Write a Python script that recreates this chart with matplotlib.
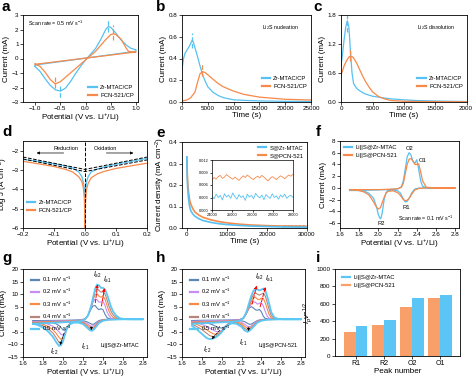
import numpy as np
import matplotlib
matplotlib.use("Agg")
import matplotlib.pyplot as plt
from matplotlib.lines import Line2D
from matplotlib.patches import Rectangle

plt.rcParams['font.family'] = ['Liberation Sans', 'DejaVu Sans']
plt.rcParams['mathtext.fontset'] = 'custom'
plt.rcParams['mathtext.rm'] = 'Liberation Sans'
plt.rcParams['mathtext.it'] = 'Liberation Sans:italic'
plt.rcParams['font.size'] = 4.5
plt.rcParams['axes.linewidth'] = 0.6
for k in ['xtick', 'ytick']:
    plt.rcParams[k + '.major.size'] = 2
    plt.rcParams[k + '.major.width'] = 0.5
    plt.rcParams[k + '.major.pad'] = 1.2
    plt.rcParams[k + '.labelsize'] = 4.5

BLUE = '#56C1F2'
ORANGE = '#F7894A'
RATE_COLORS = ['#5A86B8', '#C88CF5', '#F98A45', '#B8857A', '#5BC8F5']

# ---- a: symmetric cell CV ----
a_blue_x = [-1.0, -0.9, -0.8, -0.7, -0.6, -0.5, -0.4, -0.3, -0.2, -0.1, 0.0, 0.1, 0.2, 0.3, 0.4, 0.45, 0.5, 0.6, 0.7, 0.8, 0.9, 1.0, 1.0, -1.0, -1.0]
a_blue_y = [-0.55, -0.9, -1.4, -1.85, -2.15, -2.25, -2.05, -1.6, -1.05, -0.55, -0.1, 0.3, 0.7, 1.3, 2.0, 2.2, 2.15, 1.75, 1.3, 0.95, 0.7, 0.6, 0.5, -0.45, -0.55]
a_orange_x = [-1.0, -0.9, -0.8, -0.7, -0.6, -0.5, -0.4, -0.3, -0.2, -0.1, 0.0, 0.1, 0.2, 0.3, 0.4, 0.5, 0.55, 0.6, 0.7, 0.8, 0.85, 0.9, 1.0, -1.0, -1.0]
a_orange_y = [-0.38, -0.55, -0.95, -1.45, -1.75, -1.6, -1.3, -1.0, -0.7, -0.4, -0.1, 0.2, 0.5, 0.9, 1.3, 1.65, 1.7, 1.65, 1.35, 0.75, 0.5, 0.45, 0.45, -0.4, -0.38]
a_err_blue = [(0.45, 1.85, 2.7), (-0.5, -1.9, -2.8)]
a_err_orange = [(0.55, 1.3, 2.3), (-0.6, -1.25, -2.05)]

# ---- b: Li2S nucleation ----
nuc_t = [0, 300, 600, 1000, 1400, 1800, 2000, 2200, 2500, 3000, 3500, 4000, 4500, 5000, 6000, 7000, 8000, 10000, 12000, 15000, 20000, 25000]
nuc_blue = [0.30, 0.40, 0.45, 0.48, 0.51, 0.55, 0.57, 0.55, 0.50, 0.42, 0.33, 0.25, 0.19, 0.14, 0.09, 0.06, 0.04, 0.02, 0.015, 0.01, 0.006, 0.005]
nuc_orange = [0.01, 0.012, 0.015, 0.02, 0.03, 0.045, 0.06, 0.07, 0.09, 0.18, 0.26, 0.28, 0.27, 0.25, 0.21, 0.17, 0.14, 0.10, 0.07, 0.045, 0.025, 0.018]
nuc_err = [(2000, 0.50, 0.63, BLUE), (3800, 0.24, 0.36, ORANGE)]

# ---- c: Li2S dissolution ----
dis_t = [0, 250, 500, 750, 1000, 1250, 1500, 1750, 2000, 2500, 3000, 3500, 4000, 4500, 5000, 6000, 7000, 8000, 10000, 12000, 15000, 20000]
dis_blue = [0.75, 1.0, 1.3, 1.55, 1.68, 1.55, 1.05, 0.6, 0.38, 0.28, 0.23, 0.19, 0.16, 0.14, 0.12, 0.10, 0.08, 0.065, 0.045, 0.03, 0.02, 0.01]
dis_orange = [0.55, 0.65, 0.75, 0.82, 0.88, 0.93, 0.95, 0.94, 0.91, 0.80, 0.66, 0.52, 0.40, 0.30, 0.21, 0.11, 0.06, 0.03, 0.015, 0.01, 0.008, 0.005]
dis_err = [(1000, 1.45, 1.8, BLUE), (1500, 0.85, 1.1, ORANGE)]

# ---- d: Tafel ----
d_x = [-0.2, -0.15, -0.1, -0.06, -0.04, -0.02, -0.01, -0.005, -0.002, 0.0, 0.002, 0.005, 0.01, 0.02, 0.04, 0.06, 0.1, 0.15, 0.2]
d_blue = [-2.45, -2.55, -2.68, -2.8, -2.9, -3.1, -3.35, -3.65, -4.0, -4.4, -4.0, -3.6, -3.35, -3.1, -2.95, -2.85, -2.7, -2.55, -2.4]
d_orange = [-2.55, -2.68, -2.82, -2.98, -3.1, -3.35, -3.6, -3.95, -4.5, -6.0, -4.6, -4.0, -3.7, -3.4, -3.2, -3.08, -2.92, -2.78, -2.65]
d_fit_x = [-0.2, 0.0, 0.2]
d_fit1 = [-2.33, -2.97, -2.33]
d_fit2 = [-2.43, -3.08, -2.48]

# ---- e: potentiostatic ----
e_t = [0, 100, 200, 400, 700, 1000, 1500, 2000, 3000, 4000, 6000, 8000, 10000, 13000, 16000, 20000, 24000, 28000, 30000]
e_blue = [0.33, 0.24, 0.19, 0.14, 0.10, 0.08, 0.065, 0.055, 0.043, 0.035, 0.026, 0.02, 0.016, 0.012, 0.009, 0.007, 0.005, 0.004, 0.004]
e_orange = [0.33, 0.26, 0.22, 0.17, 0.13, 0.11, 0.09, 0.075, 0.06, 0.05, 0.038, 0.03, 0.024, 0.018, 0.014, 0.011, 0.009, 0.008, 0.008]
inset_orange = [0.0072, 0.0078, 0.0074, 0.0080, 0.0083, 0.0076, 0.0079, 0.0085, 0.0081, 0.0077, 0.0074, 0.0079, 0.0075, 0.0071, 0.0077,
                0.0082, 0.0078, 0.0084, 0.0080, 0.0076, 0.0073, 0.0078, 0.0081, 0.0077, 0.0083, 0.0079, 0.0074, 0.0070, 0.0076, 0.0080,
                0.0077, 0.0073, 0.0078, 0.0082, 0.0079, 0.0075, 0.0080, 0.0084, 0.0081, 0.0086]
inset_blue = [0.0033, 0.0027, 0.0038, 0.0030, 0.0035, 0.0024, 0.0039, 0.0031, 0.0036, 0.0028, 0.0041, 0.0032, 0.0026, 0.0037, 0.0030,
              0.0034, 0.0023, 0.0038, 0.0031, 0.0035, 0.0027, 0.0040, 0.0033, 0.0029, 0.0036, 0.0025, 0.0037, 0.0032, 0.0028, 0.0039,
              0.0030, 0.0034, 0.0026, 0.0036, 0.0031, 0.0038, 0.0028, 0.0033, 0.0035, 0.0030]

# ---- f: CV of Li-S cells ----
f_an_x = [1.70, 1.80, 1.90, 2.00, 2.10, 2.20, 2.24, 2.26, 2.28, 2.30, 2.32, 2.34, 2.36, 2.38, 2.40, 2.42, 2.44, 2.46, 2.50, 2.60, 2.80]
f_an_blue = [-0.45, -0.45, -0.4, -0.35, -0.3, -0.2, 0.2, 1.2, 3.2, 5.3, 6.0, 5.6, 4.5, 4.2, 4.8, 3.2, 1.2, 0.3, 0.0, 0.0, 0.0]
f_an_orange = [-0.3, -0.3, -0.3, -0.3, -0.25, -0.15, 0.1, 0.8, 2.4, 4.0, 4.9, 5.0, 4.6, 4.0, 4.0, 4.1, 2.8, 1.2, 0.1, 0.0, 0.0]
f_ca_x = [2.80, 2.50, 2.42, 2.38, 2.35, 2.32, 2.30, 2.28, 2.26, 2.23, 2.20, 2.15, 2.10, 2.08, 2.06, 2.04, 2.03, 2.02, 2.00, 1.98, 1.95, 1.90, 1.85, 1.80, 1.75, 1.70]
f_ca_blue = [0, 0, -0.05, -0.2, -0.8, -1.8, -2.3, -2.4, -1.9, -0.9, -0.5, -0.4, -0.45, -0.8, -2.0, -4.2, -5.0, -5.3, -4.6, -3.2, -1.8, -0.9, -0.55, -0.45, -0.4, -0.4]
f_ca_orange = [0, 0, -0.1, -0.35, -1.0, -1.8, -2.1, -2.2, -2.0, -1.3, -0.8, -0.5, -0.6, -0.9, -1.6, -2.5, -3.0, -3.4, -3.6, -3.3, -2.4, -1.2, -0.7, -0.45, -0.35, -0.3]

# ---- g / h: CV at various scan rates ----
rate_labels = ['0.1 mV s$^{-1}$', '0.2 mV s$^{-1}$', '0.3 mV s$^{-1}$', '0.4 mV s$^{-1}$', '0.5 mV s$^{-1}$']
an_x = [1.70, 1.80, 1.90, 2.00, 2.10, 2.18, 2.22, 2.25, 2.28, 2.30, 2.32, 2.34, 2.36, 2.38, 2.40, 2.42, 2.44, 2.46, 2.48, 2.50, 2.53, 2.57, 2.62, 2.70, 2.80]
g_an = [
    [-0.6, -0.5, -0.45, -0.4, -0.3, -0.2, 0.2, 1.5, 4.0, 5.3, 5.5, 4.5, 3.8, 4.2, 3.8, 2.0, 0.7, 0.2, 0.05, 0, 0, 0, 0, 0, 0],
    [-0.9, -0.8, -0.7, -0.6, -0.5, -0.3, 0.1, 1.5, 4.5, 6.8, 8.0, 7.8, 6.8, 6.9, 7.2, 5.5, 3.0, 1.4, 0.5, 0.15, 0, 0, 0, 0, 0],
    [-1.2, -1.0, -0.9, -0.8, -0.65, -0.45, 0.0, 1.5, 4.8, 7.6, 9.8, 10.2, 9.2, 8.8, 9.3, 8.0, 5.5, 3.2, 1.7, 0.8, 0.2, 0, 0, 0, 0],
    [-1.5, -1.3, -1.1, -1.0, -0.8, -0.6, 0.0, 1.5, 5.0, 8.2, 11.0, 12.3, 11.5, 10.8, 11.0, 10.0, 7.8, 5.2, 3.2, 1.8, 0.7, 0.1, 0, 0, 0],
    [-1.8, -1.6, -1.4, -1.2, -1.0, -0.7, 0.0, 1.5, 5.0, 8.5, 12.0, 13.8, 13.5, 12.5, 12.5, 11.8, 10.0, 7.5, 5.0, 3.2, 1.5, 0.4, 0.05, 0, 0],
]
g_ca_x = [2.80, 2.60, 2.45, 2.40, 2.36, 2.33, 2.31, 2.29, 2.27, 2.24, 2.20, 2.15, 2.10, 2.07, 2.04, 2.02, 2.00, 1.98, 1.96, 1.93, 1.90, 1.85, 1.80, 1.75, 1.70]
g_ca = [
    [0, 0, 0, -0.1, -0.5, -1.3, -1.9, -2.0, -1.6, -1.0, -0.6, -0.5, -0.6, -1.5, -3.5, -4.5, -4.2, -3.3, -2.5, -1.8, -1.4, -1.0, -0.8, -0.7, -0.6],
    [0, 0, -0.05, -0.2, -0.8, -1.8, -2.5, -2.8, -2.5, -1.6, -0.9, -0.7, -0.8, -1.5, -3.5, -5.2, -6.3, -6.0, -5.0, -3.8, -2.8, -1.9, -1.4, -1.1, -0.9],
    [0, 0, -0.1, -0.3, -1.0, -2.2, -3.0, -3.4, -3.2, -2.2, -1.2, -0.9, -1.0, -1.6, -3.4, -5.5, -7.5, -8.0, -7.2, -5.5, -4.2, -2.8, -2.0, -1.5, -1.2],
    [0, 0, -0.15, -0.4, -1.2, -2.6, -3.5, -4.0, -3.8, -2.8, -1.5, -1.1, -1.2, -1.8, -3.5, -5.8, -8.3, -9.5, -9.2, -7.3, -5.5, -3.7, -2.6, -1.9, -1.5],
    [0, 0, -0.2, -0.6, -1.5, -3.0, -4.0, -4.6, -4.4, -3.3, -1.9, -1.3, -1.4, -2.0, -3.6, -6.0, -8.8, -10.3, -10.6, -9.0, -7.0, -4.8, -3.3, -2.3, -1.8],
]
h_an = [
    [-0.5, -0.4, -0.35, -0.3, -0.25, -0.1, 0.6, 2.5, 4.6, 5.0, 4.5, 3.8, 3.6, 3.9, 3.0, 1.2, 0.3, 0.05, 0, 0, 0, 0, 0, 0, 0],
    [-0.8, -0.7, -0.6, -0.5, -0.4, -0.2, 0.5, 2.3, 4.8, 6.2, 7.0, 6.8, 6.0, 6.4, 6.6, 5.2, 3.0, 1.2, 0.4, 0.1, 0, 0, 0, 0, 0],
    [-1.1, -1.0, -0.9, -0.8, -0.6, -0.35, 0.4, 2.4, 5.3, 7.2, 8.5, 8.8, 8.0, 7.8, 8.4, 8.3, 6.5, 4.0, 1.8, 0.6, 0.1, 0, 0, 0, 0],
    [-1.4, -1.3, -1.1, -1.0, -0.8, -0.5, 0.4, 2.6, 6.0, 8.2, 9.8, 10.5, 10.0, 9.6, 10.0, 10.4, 9.2, 6.5, 3.8, 1.5, 0.3, 0, 0, 0, 0],
    [-1.8, -1.6, -1.4, -1.2, -1.0, -0.6, 0.5, 3.0, 7.0, 9.5, 11.3, 12.0, 11.8, 11.5, 11.8, 12.2, 11.5, 9.0, 6.0, 2.8, 0.8, 0.1, 0, 0, 0],
]
h_ca_x = [2.80, 2.60, 2.45, 2.40, 2.36, 2.33, 2.30, 2.28, 2.26, 2.23, 2.20, 2.15, 2.10, 2.06, 2.03, 2.00, 1.97, 1.94, 1.91, 1.88, 1.85, 1.80, 1.75, 1.70]
h_ca = [
    [0, 0, 0, -0.1, -0.5, -1.2, -1.9, -2.0, -1.6, -0.9, -0.6, -0.5, -0.8, -2.0, -3.0, -3.5, -3.3, -2.8, -2.2, -1.8, -1.5, -1.1, -0.8, -0.6],
    [0, 0, -0.05, -0.2, -0.7, -1.6, -2.6, -3.0, -2.8, -1.9, -1.2, -0.8, -1.0, -2.0, -3.3, -4.4, -5.0, -4.8, -4.2, -3.5, -2.8, -2.0, -1.4, -1.0],
    [0, 0, -0.1, -0.3, -0.9, -2.0, -3.1, -3.6, -3.6, -2.8, -1.7, -1.1, -1.2, -2.1, -3.4, -4.7, -5.6, -6.0, -5.7, -5.0, -4.2, -3.0, -2.0, -1.4],
    [0, 0, -0.15, -0.4, -1.1, -2.3, -3.4, -4.1, -4.3, -3.6, -2.3, -1.4, -1.4, -2.2, -3.5, -4.9, -6.0, -6.7, -6.9, -6.5, -5.6, -4.1, -2.9, -2.0],
    [0, 0, -0.2, -0.6, -1.3, -2.6, -3.8, -4.6, -5.0, -4.4, -3.0, -1.8, -1.6, -2.4, -3.7, -5.1, -6.3, -7.2, -7.7, -7.9, -7.5, -5.8, -4.0, -2.6],
]
# peak tracks (lowest -> highest scan rate)
g_peaks = {'a2': [(2.32, 5.5), (2.35, 15.0)], 'a1': [(2.38, 4.2), (2.42, 13.5)],
           'c2': [(2.02, -4.5), (1.96, -11.3)], 'c1': [(2.29, -2.0), (2.275, -5.4)]}
h_peaks = {'a2': [(2.30, 5.0), (2.36, 14.5)], 'a1': [(2.38, 3.9), (2.45, 14.0)],
           'c2': [(2.00, -3.5), (1.88, -8.7)], 'c1': [(2.28, -2.0), (2.26, -5.8)]}

# ---- i: bars ----
peak_names = ['R1', 'R2', 'O2', 'O1']
i_orange = [280, 360, 565, 670]
i_blue = [340, 415, 670, 700]

fig = plt.figure(figsize=(4.72, 3.78), dpi=100)


def ax_px(l, t, r, b):
    return fig.add_axes([l / 472, 1 - b / 378, (r - l) / 472, (b - t) / 378])


def style(ax, xl, yl):
    ax.set_xlabel(xl, fontsize=5.8, labelpad=0.5)
    ax.set_ylabel(yl, fontsize=5.8, labelpad=1)


def leg(ax, labels, colors, loc, **kw):
    hs = [Line2D([], [], color=c, lw=1.6) for c in colors]
    opts = dict(loc=loc, frameon=False, fontsize=4.2, handlelength=1.4,
                handletextpad=0.6, labelspacing=0.5, borderaxespad=0.3)
    opts.update(kw)
    ax.legend(hs, labels, **opts)


POT = 'Potential (V vs. Li$^{+}$/Li)'

# a
ax = ax_px(23, 15, 138, 102)
ax.plot(a_blue_x, a_blue_y, color=BLUE, lw=0.9)
ax.plot(a_orange_x, a_orange_y, color=ORANGE, lw=0.9)
for x, y0, y1 in a_err_blue:
    ax.plot([x, x], [y0, y1], color=BLUE, lw=0.9, ls='--')
for x, y0, y1 in a_err_orange:
    ax.plot([x, x], [y0, y1], color=ORANGE, lw=0.9, ls='--')
ax.set_xlim(-1.24, 1.04)
ax.set_ylim(-3, 3)
ax.set_xticks([-1.0, -0.5, 0.0, 0.5, 1.0])
ax.set_yticks(range(-3, 4))
ax.text(0.04, 0.88, 'Scan rate = 0.5 mV s$^{-1}$', transform=ax.transAxes, fontsize=3.8)
leg(ax, ['Zr-MTAC/CP', 'PCN-521/CP'], [BLUE, ORANGE], 'lower right')
style(ax, POT, 'Current (mA)')

# b
ax = ax_px(182, 15, 311, 102)
ax.plot(nuc_t, nuc_blue, color=BLUE, lw=0.9)
ax.plot(nuc_t, nuc_orange, color=ORANGE, lw=0.9)
for x, y0, y1, c in nuc_err:
    ax.plot([x, x], [y0, y1], color=c, lw=0.9, ls='--')
ax.set_xlim(0, 25000)
ax.set_ylim(0, 0.8)
ax.set_xticks(range(0, 25001, 5000))
ax.set_yticks([0.0, 0.2, 0.4, 0.6, 0.8])
ax.text(0.62, 0.84, 'Li$_2$S nucleation', transform=ax.transAxes, fontsize=3.8)
leg(ax, ['Zr-MTAC/CP', 'PCN-521/CP'], [BLUE, ORANGE], 'lower right', bbox_to_anchor=(1.0, 0.1))
style(ax, 'Time (s)', 'Current (mA)')

# c
ax = ax_px(341, 15, 467, 102)
ax.plot(dis_t, dis_blue, color=BLUE, lw=0.9)
ax.plot(dis_t, dis_orange, color=ORANGE, lw=0.9)
for x, y0, y1, c in dis_err:
    ax.plot([x, x], [y0, y1], color=c, lw=0.9, ls='--')
ax.set_xlim(0, 20000)
ax.set_ylim(0, 1.8)
ax.set_xticks(range(0, 20001, 5000))
ax.set_yticks([0.0, 0.6, 1.2, 1.8])
ax.text(0.6, 0.84, 'Li$_2$S dissolution', transform=ax.transAxes, fontsize=3.8)
leg(ax, ['Zr-MTAC/CP', 'PCN-521/CP'], [BLUE, ORANGE], 'lower right', bbox_to_anchor=(1.0, 0.1))
style(ax, 'Time (s)', 'Current (mA)')

# d
ax = ax_px(23, 141, 147, 228)
ax.plot(d_x, d_blue, color=BLUE, lw=0.9)
ax.plot(d_x, d_orange, color=ORANGE, lw=0.9)
ax.plot(d_fit_x, d_fit1, color='black', lw=0.7, ls='--')
ax.plot(d_fit_x, d_fit2, color='black', lw=0.7, ls='--')
ax.axvline(0, color='black', lw=0.7, ls='--')
ax.annotate('', xy=(-0.165, -2.12), xytext=(-0.06, -2.12),
            arrowprops=dict(arrowstyle='-|>', color='black', lw=0.5, mutation_scale=4))
ax.annotate('', xy=(0.165, -2.12), xytext=(0.06, -2.12),
            arrowprops=dict(arrowstyle='-|>', color='black', lw=0.5, mutation_scale=4))
ax.text(-0.06, -1.97, 'Reduction', ha='center', fontsize=4)
ax.text(0.065, -1.97, 'Oxidation', ha='center', fontsize=4)
ax.set_xlim(-0.2, 0.2)
ax.set_ylim(-6, -1.5)
ax.set_xticks([-0.2, -0.1, 0.0, 0.1, 0.2])
ax.set_yticks([-2, -3, -4, -5, -6])
leg(ax, ['Zr-MTAC/CP', 'PCN-521/CP'], [BLUE, ORANGE], 'lower left', bbox_to_anchor=(0.0, 0.12))
style(ax, POT, 'Log J (A cm$^{-2}$)')

# e
ax = ax_px(182, 142, 307, 228)
ax.plot(e_t, e_orange, color=ORANGE, lw=1.2)
ax.plot(e_t, e_blue, color=BLUE, lw=1.2)
ax.add_patch(Rectangle((24000, 0.0), 5500, 0.016, fill=False, ls='--', lw=0.5, ec='gray'))
ax.set_xlim(-1200, 30000)
ax.set_ylim(0, 0.4)
ax.set_xticks([0, 10000, 20000, 30000])
ax.set_yticks([0.0, 0.1, 0.2, 0.3, 0.4])
leg(ax, ['S@Zr-MTAC', 'S@PCN-521'], [BLUE, ORANGE], 'upper right', borderaxespad=0.1)
style(ax, 'Time (s)', 'Current density (mA cm$^{-2}$)')
ins = ax_px(212, 160, 293, 210)
ins_t = np.linspace(24000, 28000, len(inset_orange))
ins.plot(ins_t, inset_orange, color=ORANGE, lw=0.6)
ins.plot(ins_t, inset_blue, color=BLUE, lw=0.6)
ins.set_xlim(24000, 28000)
ins.set_ylim(0, 0.012)
ins.set_xticks([24000, 25000, 26000, 27000, 28000])
ins.set_yticks([0.0, 0.003, 0.006, 0.009, 0.012])
ins.yaxis.set_major_formatter(matplotlib.ticker.FormatStrFormatter('%.3f'))
ins.tick_params(labelsize=2.8, length=1.2, pad=1)
for s in ins.spines.values():
    s.set_linewidth(0.5)

# f
ax = ax_px(340, 141, 459, 228)
ax.plot(f_an_x + f_ca_x, f_an_blue + f_ca_blue, color=BLUE, lw=0.9)
ax.plot(f_an_x + f_ca_x, f_an_orange + f_ca_orange, color=ORANGE, lw=0.9)
ax.text(2.33, 6.4, 'O2', fontsize=4.2, ha='center')
ax.text(2.46, 4.5, 'O1', fontsize=4.2, ha='center')
ax.text(2.29, -3.6, 'R1', fontsize=4.2, ha='center')
ax.text(2.03, -6.3, 'R2', fontsize=4.2, ha='center')
ax.text(2.2, -5.7, 'Scan rate = 0.1 mV s$^{-1}$', fontsize=3.8)
ax.set_xlim(1.6, 2.84)
ax.set_ylim(-6.85, 8)
ax.set_xticks([1.6, 1.8, 2.0, 2.2, 2.4, 2.6, 2.8])
ax.set_yticks(range(-6, 9, 2))
leg(ax, ['Li||S@Zr-MTAC', 'Li||S@PCN-521'], [BLUE, ORANGE], 'upper left')
style(ax, POT, 'Current (mA)')


def rate_panel(ax, an, ca_x, ca, peaks, name, lab_pos):
    for k in range(5):
        ax.plot(an_x + ca_x, an[k] + ca[k], color=RATE_COLORS[k], lw=1.3 if k == 4 else 0.8)
    for key in ['a2', 'a1']:
        (x0, y0), (x1, y1) = peaks[key]
        ax.annotate('', xy=(x1, y1), xytext=(x0, y0),
                    arrowprops=dict(arrowstyle='-|>', color='red', lw=0.7, ls='--', mutation_scale=4))
    for key in ['c2', 'c1']:
        (x0, y0), (x1, y1) = peaks[key]
        ax.annotate('', xy=(x1, y1), xytext=(x0, y0),
                    arrowprops=dict(arrowstyle='-|>', color='black', lw=0.5, ls='--', mutation_scale=4))
    for key, (x, y) in lab_pos.items():
        ax.text(x, y, '$I_{%s}$' % key, fontsize=4.8, ha='center', va='center')
    ax.text(2.57, -10.3, name, fontsize=4.0, ha='center', va='center')
    ax.set_ylim(-15, 20)
    ax.set_xticks([1.6, 1.8, 2.0, 2.2, 2.4, 2.6, 2.8])
    ax.set_yticks(range(-15, 21, 5))
    leg(ax, rate_labels, RATE_COLORS, 'upper left', bbox_to_anchor=(0.03, 0.98))
    style(ax, POT, 'Current (mA)')


# g
ax = ax_px(23, 269, 147, 357)
rate_panel(ax, g_an, g_ca_x, g_ca, g_peaks, 'Li||S@Zr-MTAC',
           {'a2': (2.34, 17.6), 'a1': (2.44, 15.8), 'c2': (1.91, -12.8), 'c1': (2.22, -11.0)})
ax.set_xlim(1.6, 2.84)

# h
ax = ax_px(182, 269, 305, 357)
rate_panel(ax, h_an, h_ca_x, h_ca, h_peaks, 'Li||S@PCN-521',
           {'a2': (2.38, 17.0), 'a1': (2.48, 16.0), 'c2': (1.85, -12.0), 'c1': (2.22, -9.5)})
ax.set_xlim(1.6, 2.84)

# i
ax = ax_px(335, 269, 460, 356)
xs = np.arange(len(peak_names))
ax.bar(xs - 0.21, i_orange, width=0.42, color='#F9A06A')
ax.bar(xs + 0.21, i_blue, width=0.42, color='#5BC6F5')
ax.set_xlim(-0.73, 3.7)
ax.set_ylim(0, 1000)
ax.set_xticks(xs)
ax.set_xticklabels(peak_names, fontsize=5)
ax.set_yticks(range(0, 1001, 200))
leg(ax, ['Li||S@Zr-MTAC', 'Li||S@PCN-521'], ['#5BC6F5', '#F9A06A'], 'upper left', bbox_to_anchor=(0.02, 0.98))
style(ax, 'Peak number', '$I_p\\nu^{-1/2}$')

for s, (x, y) in zip('abcdefghi', [(2, 11), (156, 11), (313, 11), (2, 136), (156, 137), (316, 136),
                                    (2, 262), (156, 262), (316, 262)]):
    fig.text(x / 472, 1 - y / 378, s, fontsize=11, fontweight='bold')

fig.savefig('out.png', dpi=100)
